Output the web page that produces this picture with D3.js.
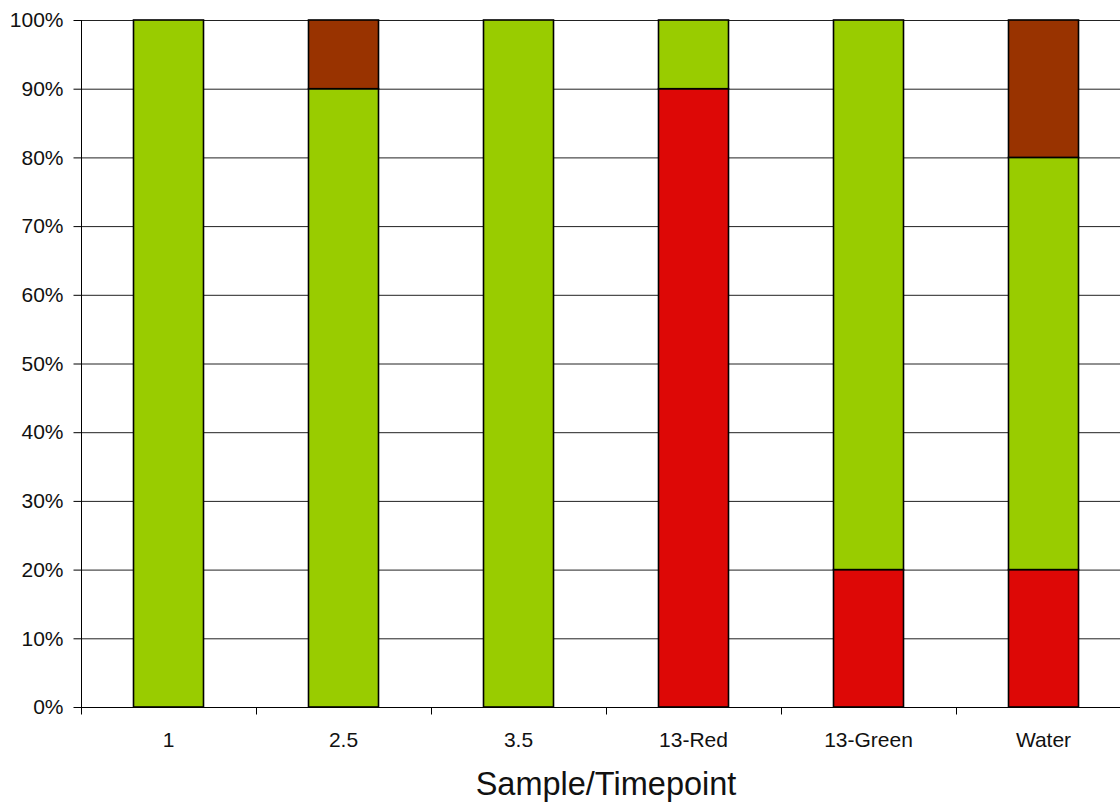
<!DOCTYPE html>
<html>
<head>
<meta charset="utf-8">
<script src="https://cdn.jsdelivr.net/npm/d3@7"></script>
<style>
  html, body { margin: 0; padding: 0; background: #fff; overflow: hidden; }
  svg { display: block; font-family: Arial, "Liberation Sans", sans-serif; }
</style>
</head>
<body>
<svg id="chart" width="1120" height="802"></svg>
<script>
// Sample groups along the x axis
const categories = ["1", "2.5", "3.5", "13-Red", "13-Green", "Water"];
// Share of each colour class per sample (percent), stacked bottom to top
const redValues   = [0, 0, 0, 90, 20, 20];
const greenValues = [100, 90, 100, 10, 80, 60];
const brownValues = [0, 10, 0, 0, 0, 20];
const yTicks = [0, 10, 20, 30, 40, 50, 60, 70, 80, 90, 100];
const xTitle = "Sample/Timepoint";

const seriesDefs = [
  { key: "red", values: redValues, color: "#DD0806" },
  { key: "green", values: greenValues, color: "#99CC00" },
  { key: "brown", values: brownValues, color: "#993300" }
];

const rows = categories.map((c, i) => {
  const r = { cat: c };
  seriesDefs.forEach(s => { r[s.key] = s.values[i]; });
  return r;
});
const stacked = d3.stack().keys(seriesDefs.map(s => s.key))(rows);

const svg = d3.select("#chart");
const marginLeft = 81, marginTop = 20, plotW = 1050, plotH = 687;

const x = d3.scaleBand().domain(categories).range([0, plotW]).paddingInner(0.6).paddingOuter(0.3);
const y = d3.scaleLinear().domain([0, 100]).range([plotH, 0]);

const g = svg.append("g").attr("transform", `translate(${marginLeft},${marginTop})`);

// horizontal gridlines
g.append("g").selectAll("line").data(yTicks.filter(t => t > 0)).join("line")
  .attr("x1", 0).attr("x2", plotW)
  .attr("y1", d => y(d) + 0.5).attr("y2", d => y(d) + 0.5)
  .attr("stroke", "#222").attr("stroke-width", 1);

// stacked bars
g.append("g").selectAll("g").data(stacked).join("g")
  .attr("fill", (d, i) => seriesDefs[i].color)
  .selectAll("rect").data(d => d.filter(p => p[1] - p[0] > 0)).join("rect")
  .attr("x", d => x(d.data.cat))
  .attr("width", x.bandwidth())
  .attr("y", d => y(d[1]))
  .attr("height", d => y(d[0]) - y(d[1]))
  .attr("stroke", "#000").attr("stroke-width", 1.6);

// y axis
const yAxis = d3.axisLeft(y).tickValues(yTicks).tickFormat(d => d + "%").tickSize(8).tickPadding(10);
const ya = g.append("g").attr("transform", "translate(0.5,0)").call(yAxis);
ya.select(".domain").attr("stroke", "#000").attr("d", `M0,${plotH + 6}V0`);
ya.selectAll(".tick line").attr("stroke", "#000");
ya.selectAll(".tick text").attr("fill", "#111").style("font-size", "21px")
  .style("font-family", "Arial, 'Liberation Sans', sans-serif");

// x axis with tick marks on the category boundaries
const xa = g.append("g").attr("transform", `translate(0,${plotH + 0.5})`);
xa.append("line").attr("x1", 0).attr("x2", plotW).attr("stroke", "#000");
const bounds = d3.range(categories.length + 1).map(i => i * plotW / categories.length);
xa.selectAll("line.tk").data(bounds).join("line").attr("class", "tk")
  .attr("x1", d => Math.round(d) + 0.5).attr("x2", d => Math.round(d) + 0.5)
  .attr("y1", 0).attr("y2", 7).attr("stroke", "#000");
xa.selectAll("text").data(categories).join("text")
  .attr("x", d => x(d) + x.bandwidth() / 2)
  .attr("y", 39.5)
  .attr("text-anchor", "middle")
  .attr("fill", "#111")
  .style("font-size", "21px")
  .text(d => d);

// x axis title
svg.append("text")
  .attr("x", marginLeft + plotW / 2)
  .attr("y", 795)
  .attr("text-anchor", "middle")
  .attr("fill", "#111")
  .style("font-size", "32.5px")
  .text(xTitle);
</script>
</body>
</html>
